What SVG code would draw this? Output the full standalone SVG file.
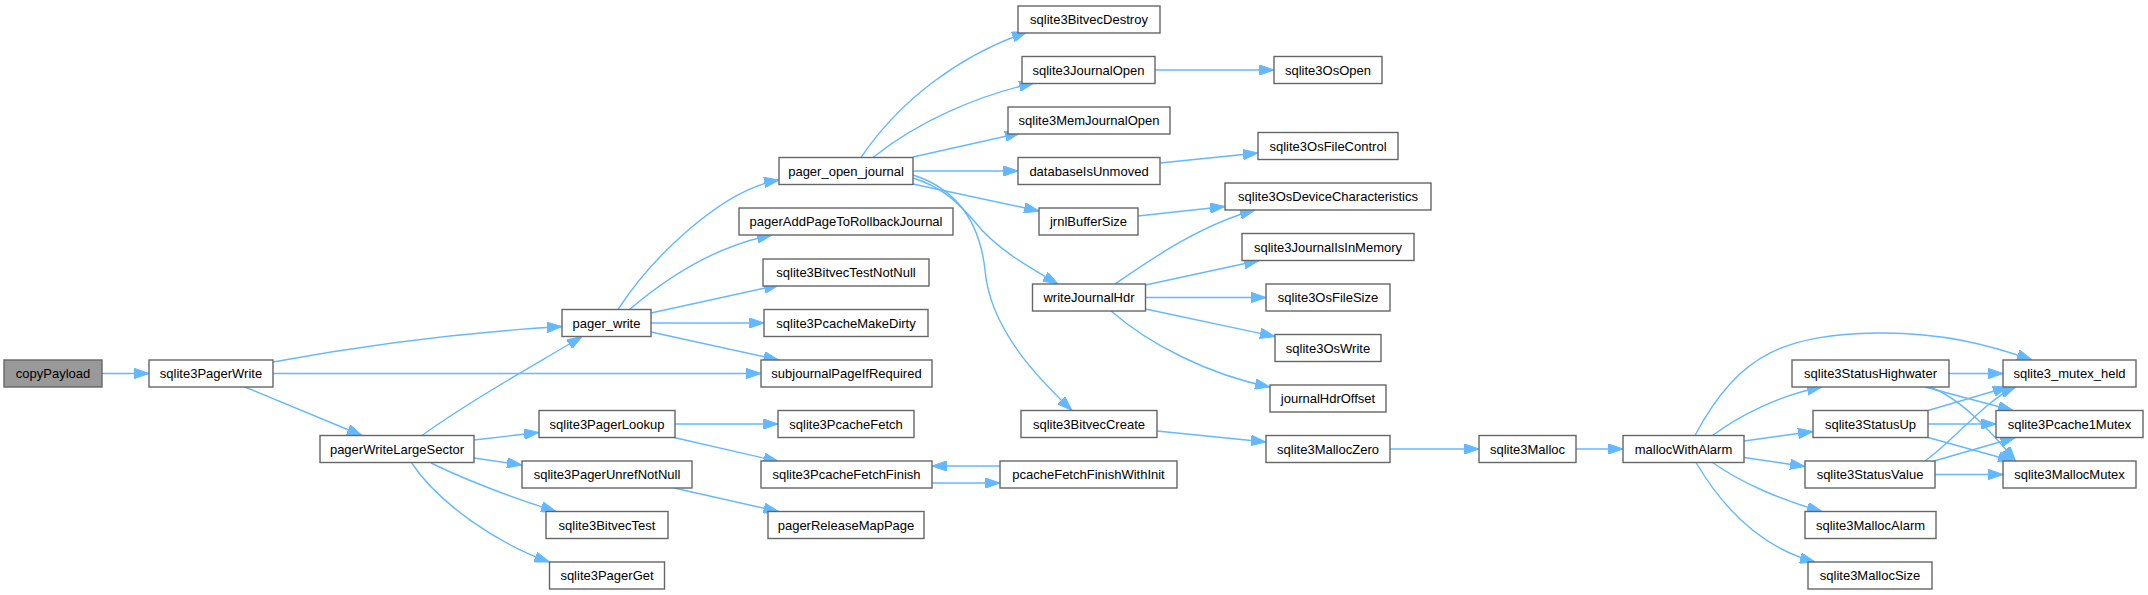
<svg xmlns="http://www.w3.org/2000/svg" width="2148" height="595" viewBox="0 0 2148 595">
<style>
.n rect{fill:#ffffff;stroke:#666666;stroke-width:1.4}
.n.root rect{fill:#999999}
.n text{font-family:"Liberation Sans",Arial,Helvetica,sans-serif;font-size:13px;fill:#000000;text-anchor:middle}
.e path{fill:none;stroke:#63b8ff;stroke-width:1.4;marker-end:url(#arr)}
</style>
<defs>
<marker id="arr" viewBox="0 0 15 10.5" markerWidth="15" markerHeight="10.5" refX="15" refY="5.25" orient="auto" markerUnits="userSpaceOnUse">
<path d="M0,0 L15,5.25 L0,10.5 z" fill="#63b8ff" stroke="#63b8ff" stroke-width="1"/>
</marker>
</defs>
<rect width="2148" height="595" fill="#ffffff"/>
<g id="edges" class="e">
<path d="M102,373.5 H149"/>
<path d="M273,362 C370,344 470,332 562,326.5"/>
<path d="M273,373.5 H761"/>
<path d="M245,387 L362,435.5"/>
<path d="M422,435.5 C470,400 540,362 582,336.5"/>
<path d="M474,440 L539,432.5"/>
<path d="M474,458 L522,465"/>
<path d="M431,463 C470,482 520,500 556,511.5"/>
<path d="M411.6,463 C440,505 500,545 549.5,562"/>
<path d="M618,309.5 C650,260 720,190 779,180"/>
<path d="M629.5,309.5 C670,275 720,245 772,235"/>
<path d="M651,313 L779,285"/>
<path d="M651,323 H764"/>
<path d="M651,332 L778.6,360"/>
<path d="M861,157.5 C900,100 960,55 1027,32"/>
<path d="M873,157.5 C920,120 980,95 1034,83"/>
<path d="M913,157 L1020,133"/>
<path d="M913,171 H1018"/>
<path d="M913,184 L1039,211"/>
<path d="M913,178 C945,188 960,205 975,222 C995,248 1030,268 1058,284"/>
<path d="M913,175 C960,190 980,225 985,270 C990,330 1040,380 1072,410.5"/>
<path d="M1155,70 H1274"/>
<path d="M1160,163 L1258,153"/>
<path d="M1138,216 L1225,206.5"/>
<path d="M1115,284 C1150,260 1200,225 1255,210"/>
<path d="M1145.5,285 L1259,260.5"/>
<path d="M1145.5,297.5 H1266"/>
<path d="M1145.5,309 L1275,336.5"/>
<path d="M1111,311 C1150,345 1210,375 1270,387"/>
<path d="M1157,431 L1266,442"/>
<path d="M1390,449 H1479"/>
<path d="M1576,449 H1623"/>
<path d="M1695,435.5 C1740,350 1790,335 1877,333 C1940,332 1990,345 2032,360"/>
<path d="M1712.5,435.5 C1740,415 1780,395 1822,387"/>
<path d="M1744,441 L1813,431.5"/>
<path d="M1744,457.5 L1805,466.5"/>
<path d="M1712.5,462.5 C1740,482 1780,500 1822,511.5"/>
<path d="M1696,462.5 C1730,520 1770,550 1815,562"/>
<path d="M1949,373.5 H2003"/>
<path d="M1925,387 L2013,410.5"/>
<path d="M1930,387 C1960,398 1990,430 2015.5,461"/>
<path d="M1928,410.5 L2008,387"/>
<path d="M1928,424 H1996"/>
<path d="M1928,437.5 L2013,461"/>
<path d="M1925,461 C1955,440 1985,400 2015.5,387"/>
<path d="M1934,461 L2015.5,437.5"/>
<path d="M1935,474.5 H2003"/>
<path d="M675,424 H778"/>
<path d="M674,437.5 L778.6,461.5"/>
<path d="M674,488 L778.6,511.5"/>
<path d="M932,483 H1000"/>
<path d="M1000,466 H932"/>
</g>
<g id="copyPayload" class="n root"><rect x="4" y="360" width="98" height="27"/><text x="53" y="378">copyPayload</text></g>
<g id="sqlite3PagerWrite" class="n"><rect x="149" y="360" width="124" height="27"/><text x="211" y="378">sqlite3PagerWrite</text></g>
<g id="pagerWriteLargeSector" class="n"><rect x="320" y="435.5" width="154" height="27"/><text x="397" y="453.5">pagerWriteLargeSector</text></g>
<g id="pager_write" class="n"><rect x="562" y="309.5" width="89" height="27"/><text x="606.5" y="327.5">pager_write</text></g>
<g id="sqlite3PagerLookup" class="n"><rect x="539" y="410.5" width="136" height="27"/><text x="607" y="428.5">sqlite3PagerLookup</text></g>
<g id="sqlite3PagerUnrefNotNull" class="n"><rect x="522" y="461" width="170" height="27"/><text x="607" y="479">sqlite3PagerUnrefNotNull</text></g>
<g id="sqlite3BitvecTest" class="n"><rect x="546" y="511.5" width="122" height="27"/><text x="607" y="529.5">sqlite3BitvecTest</text></g>
<g id="sqlite3PagerGet" class="n"><rect x="549.5" y="562" width="115" height="27"/><text x="607" y="580">sqlite3PagerGet</text></g>
<g id="pager_open_journal" class="n"><rect x="779" y="157.5" width="134" height="27"/><text x="846" y="175.5">pager_open_journal</text></g>
<g id="pagerAddPageToRollbackJournal" class="n"><rect x="739" y="208" width="214" height="27"/><text x="846" y="226">pagerAddPageToRollbackJournal</text></g>
<g id="sqlite3BitvecTestNotNull" class="n"><rect x="763" y="259" width="166" height="27"/><text x="846" y="277">sqlite3BitvecTestNotNull</text></g>
<g id="sqlite3PcacheMakeDirty" class="n"><rect x="764" y="309.5" width="164" height="27"/><text x="846" y="327.5">sqlite3PcacheMakeDirty</text></g>
<g id="subjournalPageIfRequired" class="n"><rect x="761" y="360" width="171" height="27"/><text x="846.5" y="378">subjournalPageIfRequired</text></g>
<g id="sqlite3PcacheFetch" class="n"><rect x="778" y="410.5" width="136" height="27"/><text x="846" y="428.5">sqlite3PcacheFetch</text></g>
<g id="sqlite3PcacheFetchFinish" class="n"><rect x="761" y="461" width="171" height="27"/><text x="846.5" y="479">sqlite3PcacheFetchFinish</text></g>
<g id="pagerReleaseMapPage" class="n"><rect x="768" y="511.5" width="156" height="27"/><text x="846" y="529.5">pagerReleaseMapPage</text></g>
<g id="sqlite3BitvecDestroy" class="n"><rect x="1018" y="6" width="142" height="27"/><text x="1089" y="24">sqlite3BitvecDestroy</text></g>
<g id="sqlite3JournalOpen" class="n"><rect x="1022" y="56.5" width="133" height="27"/><text x="1088.5" y="74.5">sqlite3JournalOpen</text></g>
<g id="sqlite3MemJournalOpen" class="n"><rect x="1008" y="107" width="162" height="27"/><text x="1089" y="125">sqlite3MemJournalOpen</text></g>
<g id="databaseIsUnmoved" class="n"><rect x="1018" y="157.5" width="142" height="27"/><text x="1089" y="175.5">databaseIsUnmoved</text></g>
<g id="jrnlBufferSize" class="n"><rect x="1039" y="208" width="99" height="27"/><text x="1088.5" y="226">jrnlBufferSize</text></g>
<g id="writeJournalHdr" class="n"><rect x="1032.5" y="284" width="113" height="27"/><text x="1089" y="302">writeJournalHdr</text></g>
<g id="sqlite3BitvecCreate" class="n"><rect x="1021" y="410.5" width="136" height="27"/><text x="1089" y="428.5">sqlite3BitvecCreate</text></g>
<g id="pcacheFetchFinishWithInit" class="n"><rect x="1000" y="461" width="177" height="27"/><text x="1088.5" y="479">pcacheFetchFinishWithInit</text></g>
<g id="sqlite3OsOpen" class="n"><rect x="1274" y="56.5" width="108" height="27"/><text x="1328" y="74.5">sqlite3OsOpen</text></g>
<g id="sqlite3OsFileControl" class="n"><rect x="1258" y="132.5" width="140" height="27"/><text x="1328" y="150.5">sqlite3OsFileControl</text></g>
<g id="sqlite3OsDeviceCharacteristics" class="n"><rect x="1225" y="183" width="206" height="27"/><text x="1328" y="201">sqlite3OsDeviceCharacteristics</text></g>
<g id="sqlite3JournalIsInMemory" class="n"><rect x="1242" y="233.5" width="172" height="27"/><text x="1328" y="251.5">sqlite3JournalIsInMemory</text></g>
<g id="sqlite3OsFileSize" class="n"><rect x="1266" y="284" width="124" height="27"/><text x="1328" y="302">sqlite3OsFileSize</text></g>
<g id="sqlite3OsWrite" class="n"><rect x="1275" y="334.5" width="106" height="27"/><text x="1328" y="352.5">sqlite3OsWrite</text></g>
<g id="journalHdrOffset" class="n"><rect x="1270" y="385" width="116" height="27"/><text x="1328" y="403">journalHdrOffset</text></g>
<g id="sqlite3MallocZero" class="n"><rect x="1266" y="435.5" width="124" height="27"/><text x="1328" y="453.5">sqlite3MallocZero</text></g>
<g id="sqlite3Malloc" class="n"><rect x="1479" y="435.5" width="97" height="27"/><text x="1527.5" y="453.5">sqlite3Malloc</text></g>
<g id="mallocWithAlarm" class="n"><rect x="1623" y="435.5" width="121" height="27"/><text x="1683.5" y="453.5">mallocWithAlarm</text></g>
<g id="sqlite3StatusHighwater" class="n"><rect x="1792" y="360" width="157" height="27"/><text x="1870.5" y="378">sqlite3StatusHighwater</text></g>
<g id="sqlite3StatusUp" class="n"><rect x="1813" y="410.5" width="115" height="27"/><text x="1870.5" y="428.5">sqlite3StatusUp</text></g>
<g id="sqlite3StatusValue" class="n"><rect x="1805" y="461" width="130" height="27"/><text x="1870" y="479">sqlite3StatusValue</text></g>
<g id="sqlite3MallocAlarm" class="n"><rect x="1805" y="511.5" width="131" height="27"/><text x="1870.5" y="529.5">sqlite3MallocAlarm</text></g>
<g id="sqlite3MallocSize" class="n"><rect x="1808" y="562" width="124" height="27"/><text x="1870" y="580">sqlite3MallocSize</text></g>
<g id="sqlite3_mutex_held" class="n"><rect x="2003" y="360" width="133" height="27"/><text x="2069.5" y="378">sqlite3_mutex_held</text></g>
<g id="sqlite3Pcache1Mutex" class="n"><rect x="1996" y="410.5" width="147" height="27"/><text x="2069.5" y="428.5">sqlite3Pcache1Mutex</text></g>
<g id="sqlite3MallocMutex" class="n"><rect x="2003" y="461" width="133" height="27"/><text x="2069.5" y="479">sqlite3MallocMutex</text></g>
</svg>
